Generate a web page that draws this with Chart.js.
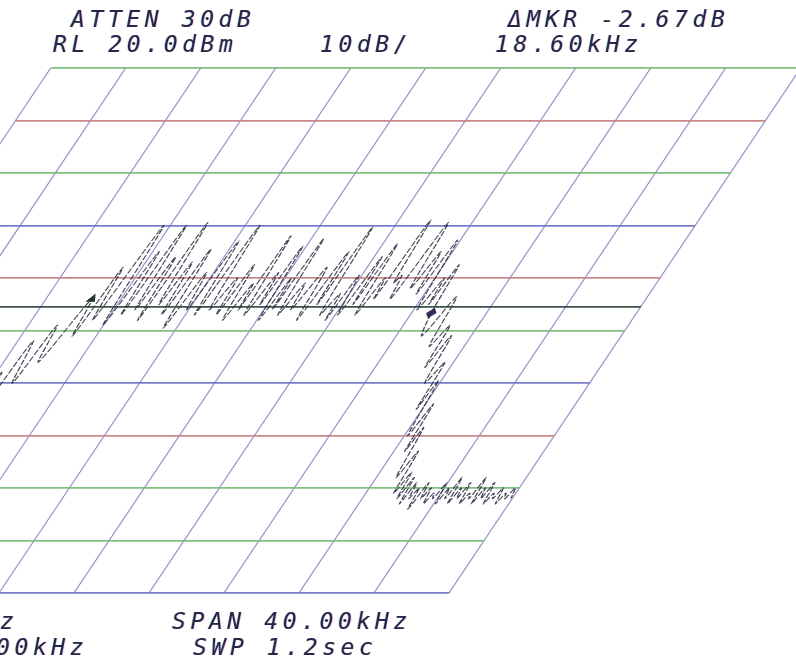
<!DOCTYPE html>
<html>
<head>
<meta charset="utf-8">
<script src="https://cdn.jsdelivr.net/npm/chart.js@4.4.1/dist/chart.umd.min.js"></script>
<style>
  html, body { margin: 0; padding: 0; background: #fff; overflow: hidden; width: 796px; height: 666px; }
  #wrap { position: relative; width: 796px; height: 666px; overflow: hidden; background: #fff; }
  #scope { position: absolute; left: 0; top: 0; }
  .lbl {
    position: absolute; white-space: pre; line-height: 1;
    font-family: "DejaVu Sans Mono", "Liberation Mono", monospace;
    font-style: italic; font-size: 23px; letter-spacing: 4.6px;
    color: #26264a;
    text-shadow: 0.7px 0 0 rgba(210,60,170,0.35), -0.7px 0 0 rgba(40,180,130,0.35);
  }
</style>
</head>
<body>
<div id="wrap">
  <canvas id="scope" width="830" height="666"></canvas>
  <div class="lbl" style="left:71px;top:8px">ATTEN 30dB</div>
  <div class="lbl" style="left:53px;top:33px">RL 20.0dBm</div>
  <div class="lbl" style="left:320px;top:33px">10dB/</div>
  <div class="lbl" style="left:508px;top:8px">ΔMKR -2.67dB</div>
  <div class="lbl" style="left:495px;top:33px">18.60kHz</div>
  <div class="lbl" style="left:0px;top:610px">z</div>
  <div class="lbl" style="left:172px;top:610px">SPAN 40.00kHz</div>
  <div class="lbl" style="left:-4px;top:636px">00kHz</div>
  <div class="lbl" style="left:193px;top:636px">SWP 1.2sec</div>
</div>
<script>
// Frequency axis: offset from sweep start, kHz (40 kHz span, 4 kHz/div)
const SPAN_KHZ = 40;
const KHZ_PER_DIV = 4;
// Amplitude axis: reference level 20 dBm, 10 dB/div, 10 divisions
const REF_LEVEL_DBM = 20;
const DB_PER_DIV = 10;

// Noise floor below the signal band
const noiseLowKHz = [0, 0.32, 0.64, 0.96, 1.28, 1.6, 1.92, 2.24, 2.56, 2.88,
                     3.2, 3.52, 3.84, 4.16, 4.48, 4.8, 5.12, 5.44, 5.76, 6.08,
                     6.4, 6.72, 7.04, 7.36, 7.68, 7.96];
const noiseLowDbm = [-61, -63, -60, -62, -64, -61, -62, -60, -63, -61,
                     -62, -64, -60, -62, -61, -63, -60, -62, -58, -61,
                     -55, -59, -50, -54, -44, -49];

// Modulated band: spectral lines and the valleys between them
const bandKHz = [8.24, 8.52, 8.8, 9.2, 9.52, 9.84, 10.44, 10.72, 10.96, 11.24,
                 11.64, 11.96, 12.32, 12.56, 12.84, 13.12, 13.4, 13.64, 13.88, 14.2,
                 14.48, 14.72, 15.0, 15.28, 15.6, 15.88, 16.2, 16.48, 16.76, 17.08,
                 17.44, 17.64, 17.88, 18.16, 18.48, 18.64, 18.8, 19.12, 19.44, 19.6,
                 19.8, 20.08, 20.32, 20.44, 20.64, 20.92, 21.24, 21.44, 21.84, 22.12,
                 22.44, 22.64, 22.84, 23.16, 23.48, 23.64, 23.84, 24.12, 24.4, 24.56,
                 24.76, 25.04, 25.32, 25.48, 25.68, 25.96, 26.12, 26.36, 26.72, 27.04,
                 27.36, 27.56, 27.84, 28.16, 28.48, 28.6, 28.8, 29.04, 29.36, 29.8,
                 30.12, 30.48, 30.64, 30.92, 31.2, 31.52, 31.68, 31.84, 32.16, 32.4,
                 32.56, 32.72, 33.04, 33.28, 33.48];
const bandDbm = [-38, -44, -32, -40, -29, -36, -24, -31, -18, -28,
                 -10, -29, -15, -27, -10, -26, -16, -28, -9.5, -25,
                 -17, -27, -14.5, -29.5, -19, -26, -13, -27, -10, -26,
                 -20, -27, -17.5, -28, -21, -26, -12, -27, -19, -25,
                 -14, -28, -20, -26, -12.5, -27, -21, -26, -18, -28,
                 -15, -25, -10.3, -27, -23, -28, -19.5, -27, -16, -25,
                 -13.5, -27, -20, -24, -9, -21, -19.5, -24, -9.5, -22,
                 -15, -23, -12.8, -26, -20, -25, -17.5, -26.67, -31, -23.6,
                 -33, -29, -37, -31, -40, -36, -45, -39.5, -50, -44,
                 -53, -48.5, -58, -53, -61];

// Noise floor above the signal band
const noiseHighKHz = [33.68, 33.84, 34.0, 34.16, 34.32, 34.48, 34.64, 34.8, 34.96, 35.12,
                      35.28, 35.44, 35.6, 35.76, 35.92, 36.08, 36.24, 36.4, 36.56, 36.72,
                      36.88, 37.04, 37.2, 37.36, 37.52, 37.68, 37.84, 38.0, 38.16, 38.32,
                      38.48, 38.64, 38.8, 38.96, 39.12, 39.28, 39.44, 39.6, 39.76, 39.92];
const noiseHighDbm = [-57, -62, -58, -63, -59, -62, -60, -64, -59, -62,
                      -60, -63, -61, -62, -59, -63, -60, -62, -58, -63,
                      -60, -62, -59, -63, -61, -62, -58, -63, -60, -62,
                      -59, -63, -61, -62, -60, -63, -61, -62, -60, -62];

// Reference marker and delta marker
const markerKHz = [10.44, 29.04];
const markerDbm = [-24.0, -26.67];
// Display line level
const displayLineDbm = -25.5;

// Horizontal graticule tint, keyed by level (dBm)
const graticuleTint = {
  20: 'green', 10: 'red', 0: 'green', '-10': 'blue', '-20': 'red', '-30': 'green',
  '-40': 'blue', '-50': 'red', '-60': 'green', '-70': 'green', '-80': 'blue'
};
const tintColor = { green: 'rgba(118,190,118,0.95)', red: 'rgba(198,132,132,0.95)', blue: 'rgba(116,116,198,0.95)' };

const toPoints = (xs, ys) => xs.map((x, i) => ({ x, y: ys[i] }));
const tracePoints = [
  ...toPoints(noiseLowKHz, noiseLowDbm),
  ...toPoints(bandKHz, bandDbm),
  ...toPoints(noiseHighKHz, noiseHighDbm)
];

// The CRT graticule leans to the right: shear the plot area about its top edge
const SHEAR = 0.67;
const shearPlugin = {
  id: 'crtShear',
  beforeDraw(chart) {
    const { ctx, chartArea } = chart;
    ctx.save();
    ctx.transform(1, 0, -SHEAR, 1, SHEAR * chartArea.top, 0);
  },
  afterDraw(chart) {
    chart.ctx.restore();
  }
};

const yMin = REF_LEVEL_DBM - 10 * DB_PER_DIV;

new Chart(document.getElementById('scope'), {
  type: 'line',
  data: {
    datasets: [
      {
        label: 'Display line',
        data: [{ x: 0, y: displayLineDbm }, { x: SPAN_KHZ, y: displayLineDbm }],
        borderColor: 'rgba(40,62,52,0.9)',
        borderWidth: 1.6,
        pointRadius: 0
      },
      {
        label: 'Trace',
        data: tracePoints,
        borderColor: 'rgba(46,46,68,0.88)',
        borderWidth: 1.4,
        borderDash: [5, 1.5],
        pointRadius: 0,
        tension: 0.3
      },
      {
        label: 'Markers',
        data: toPoints(markerKHz, markerDbm),
        showLine: false,
        pointStyle: ['triangle', 'rectRot'],
        pointRadius: 4.5,
        pointBackgroundColor: ['#1e3a2c', '#3b2856'],
        pointBorderColor: ['#1e3a2c', '#3b2856'],
        pointBorderWidth: 1
      }
    ]
  },
  options: {
    responsive: false,
    devicePixelRatio: 1,
    animation: false,
    events: [],
    layout: { padding: { left: 51, top: 68, right: 29, bottom: 73 } },
    plugins: { legend: { display: false }, tooltip: { enabled: false }, title: { display: false } },
    scales: {
      x: {
        type: 'linear',
        min: 0, max: SPAN_KHZ,
        ticks: { display: false, stepSize: KHZ_PER_DIV },
        border: { display: false },
        grid: { drawTicks: false, color: 'rgba(138,128,198,0.9)', lineWidth: 1.4 }
      },
      y: {
        type: 'linear',
        min: yMin, max: REF_LEVEL_DBM,
        ticks: { display: false, stepSize: DB_PER_DIV },
        border: { display: false },
        grid: {
          drawTicks: false,
          lineWidth: 1.8,
          color: (c) => tintColor[graticuleTint[c.tick ? c.tick.value : 0]] || tintColor.blue
        }
      }
    }
  },
  plugins: [shearPlugin]
});
</script>
</body>
</html>
